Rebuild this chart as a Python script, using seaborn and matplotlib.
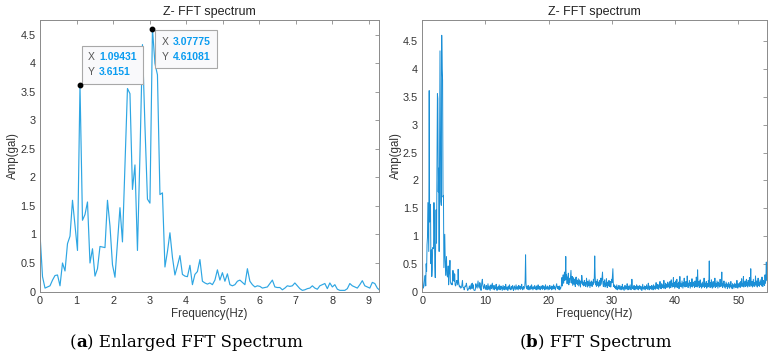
import numpy as np
import pandas as pd
import matplotlib
matplotlib.use("Agg")
import matplotlib.pyplot as plt
import seaborn as sns
from matplotlib.offsetbox import TextArea, HPacker, VPacker, AnnotationBbox

# Z- FFT spectrum, one value per frequency bin
DF = 0.0683944  # Hz per bin (1.09431 / 16)

# 0 - 9.3 Hz (the enlarged part)
amp_low = [
    1.00, 0.26, 0.06, 0.08, 0.10, 0.20, 0.28, 0.29, 0.10, 0.50,
    0.36, 0.84, 0.97, 1.60, 1.15, 0.72, 3.6151, 1.25, 1.35, 1.57,
    0.50, 0.75, 0.27, 0.40, 0.79, 0.78, 0.77, 1.60, 1.15, 0.47,
    0.25, 0.85, 1.47, 0.87, 2.20, 3.56, 3.47, 1.79, 2.22, 0.72,
    2.40, 4.33, 2.90, 1.62, 1.55, 4.61081, 4.00, 3.80, 1.70, 1.73,
    0.43, 0.70, 1.03, 0.60, 0.29, 0.45, 0.63, 0.30, 0.27, 0.26,
    0.46, 0.12, 0.30, 0.35, 0.56, 0.18, 0.15, 0.13, 0.15, 0.12,
    0.20, 0.38, 0.20, 0.33, 0.18, 0.31, 0.12, 0.10, 0.12, 0.18,
    0.20, 0.16, 0.12, 0.40, 0.18, 0.12, 0.08, 0.10, 0.09, 0.06,
    0.07, 0.08, 0.14, 0.20, 0.08, 0.07, 0.07, 0.03, 0.06, 0.10,
    0.09, 0.10, 0.15, 0.10, 0.05, 0.02, 0.03, 0.05, 0.06, 0.10,
    0.06, 0.04, 0.10, 0.12, 0.14, 0.05, 0.15, 0.08, 0.12, 0.04,
    0.02, 0.02, 0.02, 0.05, 0.14, 0.10, 0.08, 0.06, 0.12, 0.19,
    0.10, 0.08, 0.06, 0.16, 0.14, 0.06, 0.02,
]

# 9.4 - 22 Hz
amp_mid = [
    0.10, 0.18, 0.22, 0.12, 0.08, 0.05, 0.09, 0.13, 0.07, 0.04,
    0.06, 0.11, 0.05, 0.03, 0.09, 0.14, 0.07, 0.04, 0.10, 0.06,
    0.02, 0.08, 0.12, 0.05, 0.07, 0.15, 0.09, 0.04, 0.06, 0.11,
    0.03, 0.07, 0.05, 0.10, 0.13, 0.06, 0.02, 0.08, 0.05, 0.09,
    0.04, 0.12, 0.07, 0.03, 0.06, 0.10, 0.05, 0.08, 0.02, 0.07,
    0.11, 0.04, 0.06, 0.09, 0.03, 0.05, 0.13, 0.07, 0.04, 0.08,
    0.06, 0.02, 0.10, 0.05, 0.07, 0.12, 0.04, 0.06, 0.03, 0.09,
    0.05, 0.08, 0.11, 0.04, 0.02, 0.07, 0.10, 0.06, 0.03, 0.08,
    0.12, 0.05, 0.04, 0.09, 0.06, 0.03, 0.11, 0.07, 0.05, 0.10,
    0.04, 0.08, 0.06, 0.13, 0.05, 0.03, 0.07, 0.09, 0.04, 0.06,
    0.08, 0.20, 0.66, 0.15, 0.06,
    0.09, 0.04, 0.07, 0.11, 0.05, 0.03, 0.08, 0.06, 0.10, 0.04,
    0.07, 0.12, 0.05, 0.08, 0.03, 0.06, 0.09, 0.05, 0.11, 0.07,
    0.04, 0.06, 0.10, 0.03, 0.08, 0.05, 0.12, 0.06, 0.04, 0.09,
    0.07, 0.03, 0.05, 0.10, 0.06, 0.08, 0.04, 0.11, 0.05, 0.07,
    0.09, 0.03, 0.06, 0.12, 0.04, 0.07, 0.05, 0.10, 0.08, 0.03,
    0.06, 0.09, 0.04, 0.11, 0.07, 0.05, 0.08, 0.03, 0.10, 0.06,
    0.04, 0.07, 0.12, 0.05, 0.09, 0.06, 0.03, 0.08, 0.11, 0.14,
    0.07, 0.05, 0.09, 0.04, 0.06, 0.10, 0.03, 0.07, 0.05, 0.09,
]

# 22 - 39 Hz
amp_band = [
    0.12, 0.25, 0.10, 0.18, 0.30, 0.15, 0.22, 0.35, 0.20, 0.28,
    0.63,
    0.22, 0.30, 0.14, 0.26, 0.18, 0.33, 0.12, 0.24, 0.20, 0.16,
    0.28, 0.38, 0.21, 0.15, 0.27, 0.11, 0.19, 0.25, 0.13, 0.22,
    0.17, 0.09, 0.24, 0.26, 0.14, 0.20, 0.12, 0.18, 0.23, 0.10,
    0.16, 0.21, 0.13, 0.08, 0.19, 0.15, 0.29, 0.22, 0.12, 0.17,
    0.10, 0.14, 0.20, 0.11, 0.16, 0.09, 0.13, 0.24, 0.15, 0.08,
    0.18, 0.12, 0.10, 0.21, 0.14, 0.07, 0.16, 0.11, 0.19, 0.13,
    0.09, 0.17, 0.12, 0.22, 0.15, 0.25,
    0.64,
    0.28, 0.12, 0.18, 0.09, 0.15, 0.22, 0.11, 0.17, 0.08, 0.14,
    0.20, 0.10, 0.16, 0.24, 0.13, 0.19, 0.26, 0.35, 0.14, 0.09,
    0.18, 0.12, 0.21, 0.08, 0.15, 0.11, 0.23, 0.13, 0.07, 0.17,
    0.10, 0.14, 0.20, 0.09, 0.12, 0.18, 0.08, 0.13, 0.22, 0.16,
    0.30, 0.41, 0.15, 0.09, 0.12, 0.07, 0.10,
    0.05, 0.09, 0.04, 0.12, 0.07, 0.03, 0.08, 0.06, 0.11, 0.04,
    0.07, 0.10, 0.05, 0.03, 0.09, 0.06, 0.13, 0.04, 0.08, 0.05,
    0.02, 0.07, 0.11, 0.06, 0.04, 0.09, 0.05, 0.14, 0.07, 0.03,
    0.06, 0.10, 0.04, 0.08, 0.12, 0.05, 0.03, 0.07, 0.22, 0.09,
    0.05, 0.08, 0.04, 0.11, 0.06, 0.03, 0.09, 0.05, 0.07, 0.12,
    0.04, 0.06, 0.10, 0.03, 0.08, 0.05, 0.11, 0.07, 0.04, 0.09,
    0.06, 0.02, 0.08, 0.13, 0.05, 0.07, 0.04, 0.10, 0.06, 0.03,
    0.09, 0.05, 0.12, 0.07, 0.04, 0.08, 0.15, 0.06, 0.03, 0.10,
    0.07, 0.05, 0.09, 0.04, 0.11, 0.06, 0.08, 0.03, 0.12, 0.07,
    0.05, 0.10, 0.04, 0.08, 0.16, 0.06, 0.09, 0.05, 0.13, 0.07,
    0.04, 0.11, 0.08, 0.18, 0.06, 0.10, 0.05, 0.14, 0.09, 0.07,
    0.12, 0.06, 0.20, 0.08, 0.11, 0.05, 0.15, 0.09, 0.13, 0.07,
    0.10, 0.17, 0.08,
]

# 39 - 54.5 Hz
amp_high = [
    0.09, 0.14, 0.06, 0.18, 0.11, 0.07, 0.21, 0.10, 0.15, 0.08,
    0.12, 0.25, 0.09, 0.16, 0.06, 0.13, 0.19, 0.08, 0.11, 0.22,
    0.07, 0.14, 0.10, 0.17, 0.05, 0.12, 0.27, 0.09, 0.15, 0.11,
    0.08, 0.19, 0.13, 0.06, 0.16, 0.10, 0.24, 0.12, 0.08, 0.14,
    0.18, 0.09, 0.11, 0.28, 0.13, 0.07, 0.15, 0.10, 0.20, 0.12,
    0.06, 0.16, 0.09, 0.13, 0.23, 0.08, 0.11, 0.17, 0.10, 0.14,
    0.07, 0.19, 0.12, 0.09, 0.26, 0.15, 0.08, 0.39, 0.13, 0.10,
    0.18, 0.07, 0.12, 0.21, 0.09, 0.14, 0.06, 0.11, 0.17, 0.08,
    0.13, 0.10, 0.24, 0.07, 0.15, 0.09, 0.12, 0.18, 0.06, 0.11,
    0.14, 0.08, 0.20, 0.10,
    0.55,
    0.12, 0.07, 0.16, 0.09, 0.21, 0.11, 0.06, 0.14, 0.18, 0.08,
    0.13, 0.10, 0.24, 0.07, 0.15, 0.11, 0.09, 0.19, 0.12, 0.06,
    0.17, 0.10, 0.14, 0.08, 0.22, 0.13, 0.09, 0.16, 0.35, 0.11,
    0.07, 0.15, 0.10, 0.19, 0.08, 0.13, 0.06, 0.11, 0.17, 0.09,
    0.14, 0.05, 0.12, 0.08, 0.16, 0.10, 0.06, 0.13, 0.09, 0.18,
    0.07, 0.11, 0.05, 0.14, 0.09, 0.12, 0.06, 0.10, 0.15, 0.08,
    0.13, 0.07, 0.11, 0.20, 0.09, 0.06, 0.14, 0.10, 0.08, 0.16,
    0.12, 0.07, 0.18, 0.10, 0.23, 0.09, 0.14, 0.11, 0.27, 0.08,
    0.15, 0.12, 0.19, 0.09, 0.13, 0.22, 0.10, 0.16, 0.08, 0.20,
    0.14, 0.11, 0.25, 0.09, 0.17, 0.41, 0.13, 0.10, 0.18, 0.08,
    0.15, 0.22, 0.11, 0.09, 0.16, 0.12, 0.28, 0.10, 0.14, 0.19,
    0.08, 0.13, 0.24, 0.11, 0.17, 0.09, 0.15, 0.21, 0.12, 0.18,
    0.10, 0.26, 0.14, 0.09, 0.20, 0.13, 0.17, 0.11, 0.30, 0.15,
    0.22, 0.53, 0.20,
]

tip_bins = [16, 45]          # data tips shown on the enlarged plot
x_lims = [9.28, 54.5]
y_lims = [4.76, 4.89]
x_ticks = [np.arange(0, 10, 1), np.arange(0, 60, 10)]
panel_labels = ["a", "b"]
captions = [") Enlarged FFT Spectrum", ") FFT Spectrum"]
line_colors = ["#2ea6e3", "#1b8fd6"]

amp = np.array(amp_low + amp_mid + amp_band + amp_high)
freq = np.arange(len(amp)) * DF
df = pd.DataFrame({"Frequency": freq, "Amp": amp})

sns.set_theme(style="white")
plt.rcParams["font.family"] = ["Liberation Sans", "DejaVu Sans"]

fig = plt.figure(figsize=(7.71, 3.59), dpi=100)
axes = [fig.add_axes([0.0519, 0.188, 0.4397, 0.756]),
        fig.add_axes([0.5477, 0.188, 0.4467, 0.757])]
caption_x = [0.242, 0.772]

for i, ax in enumerate(axes):
    sub = df[df["Frequency"] <= x_lims[i] + DF]
    sns.lineplot(data=sub, x="Frequency", y="Amp", ax=ax, color=line_colors[i],
                 linewidth=0.85 if i == 0 else 0.7, estimator=None, errorbar=None)
    ax.set_xlim(0, x_lims[i])
    ax.set_ylim(0, y_lims[i])
    ax.set_xticks(x_ticks[i])
    ax.set_yticks(np.arange(0, 5, 0.5))
    ax.set_yticklabels(["0", "0.5", "1", "1.5", "2", "2.5", "3", "3.5", "4", "4.5"])
    ax.tick_params(direction="in", top=True, right=True, length=3, width=0.6,
                   color="#8a8a8a", labelcolor="#333333", labelsize=7.8, pad=3)
    for sp in ax.spines.values():
        sp.set_color("#8a8a8a")
        sp.set_linewidth(0.7)
    ax.set_title("Z- FFT spectrum", fontsize=9, color="#222222", pad=3.5)
    ax.set_xlabel("Frequency(Hz)", fontsize=8.3, color="#333333", labelpad=2)
    ax.set_ylabel("Amp(gal)", fontsize=8.3, color="#333333", labelpad=1)

    # sub-figure caption
    cap = HPacker(children=[
        TextArea("(", textprops=dict(family="DejaVu Serif", size=12, color="black")),
        TextArea(panel_labels[i], textprops=dict(family="DejaVu Serif", size=12,
                                                 weight="bold", color="black")),
        TextArea(captions[i], textprops=dict(family="DejaVu Serif", size=12, color="black")),
    ], sep=0, pad=0)
    fig.add_artist(AnnotationBbox(cap, (caption_x[i], 0.045), xycoords="figure fraction",
                                  frameon=False, box_alignment=(0.5, 0.5)))

# data tips on the enlarged plot (offsets include the frame padding)
ax = axes[0]
tip_offsets = [((8, 8), (0, 0)), ((9, -8), (0, 1))]
for k, (off, align) in zip(tip_bins, tip_offsets):
    fx, ay = freq[k], amp[k]
    ax.plot([fx], [ay], "o", color="black", markersize=3.2, zorder=5)
    rows = []
    for name, val in [("X", f"{fx:.6g}"), ("Y", f"{ay:.6g}")]:
        rows.append(HPacker(children=[
            TextArea(name, textprops=dict(size=7.5, color="#555555")),
            TextArea(val, textprops=dict(size=7.5, color="#0a9cf0", weight="bold")),
        ], sep=3, pad=0))
    box = VPacker(children=rows, sep=4, pad=0, align="left")
    ab = AnnotationBbox(box, (fx, ay), xybox=off, boxcoords="offset pixels",
                        box_alignment=align, pad=0.6, fontsize=7.5,
                        bboxprops=dict(facecolor="#f9f9fb", edgecolor="#a8a8a8", linewidth=0.8))
    ax.add_artist(ab)

fig.savefig("out.png", dpi=100)
